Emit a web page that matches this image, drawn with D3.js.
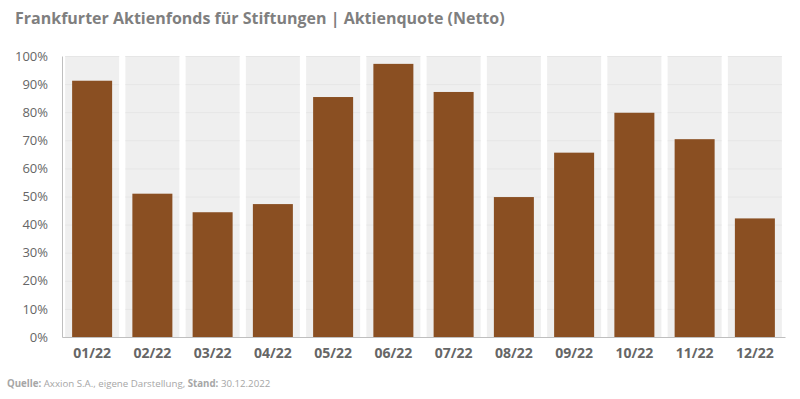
<!DOCTYPE html>
<html>
<head>
<meta charset="utf-8">
<script src="https://cdnjs.cloudflare.com/ajax/libs/d3/7.8.5/d3.min.js"></script>
<style>
  body { margin: 0; background: #fff; }
  svg { display: block; font-family: "Open Sans", sans-serif; }
</style>
</head>
<body>
<svg id="chart" width="800" height="399"></svg>
<script>
// data
var months = ['01/22', '02/22', '03/22', '04/22', '05/22', '06/22',
              '07/22', '08/22', '09/22', '10/22', '11/22', '12/22'];
var quote = [91.2, 51.0, 44.4, 47.3, 85.4, 97.2, 87.2, 49.8, 65.6, 79.8, 70.4, 42.2];
var yTicks = [0, 10, 20, 30, 40, 50, 60, 70, 80, 90, 100];

var svg = d3.select('#chart');
var plotLeft = 62, plotRight = 785, plotTop = 56, plotBottom = 337;
var colW = 54, barW = 40;

var x = d3.scaleBand().domain(months).range([plotLeft, plotRight]);
var y = d3.scaleLinear().domain([0, 100]).range([plotBottom, plotTop]);
function mid(d) { return x(d) + x.bandwidth() / 2; }

// title
svg.append('text')
    .attr('x', 15).attr('y', 24)
    .attr('font-size', 16).attr('font-weight', 'bold')
    .attr('fill', '#7f7f7f')
    .text('Frankfurter Aktienfonds für Stiftungen | Aktienquote (Netto)');

// grey column behind each month, with its own faint gridlines
var cols = svg.append('g').selectAll('g')
    .data(months).enter().append('g');
cols.append('rect')
    .attr('x', function(d) { return mid(d) - colW / 2; })
    .attr('y', plotTop)
    .attr('width', colW)
    .attr('height', plotBottom - plotTop)
    .attr('fill', '#efefef');
cols.selectAll('line')
    .data(function(d) { return yTicks.slice(1).map(function(t) { return [d, t]; }); })
    .enter().append('line')
    .attr('x1', function(p) { return mid(p[0]) - colW / 2; })
    .attr('x2', function(p) { return mid(p[0]) + colW / 2; })
    .attr('y1', function(p) { return y(p[1]) + 0.5; })
    .attr('y2', function(p) { return y(p[1]) + 0.5; })
    .attr('stroke', '#e6e6e6').attr('stroke-width', 1);

// bars
svg.append('g').selectAll('rect')
    .data(quote).enter().append('rect')
    .attr('x', function(d, i) { return mid(months[i]) - barW / 2; })
    .attr('y', function(d) { return y(d); })
    .attr('width', barW)
    .attr('height', function(d) { return plotBottom - y(d); })
    .attr('fill', '#8a4f22');

// y axis
var yAxis = svg.append('g')
    .attr('transform', 'translate(' + plotLeft + ',0)')
    .call(d3.axisLeft(y).tickValues(yTicks).tickSize(0).tickPadding(14)
        .tickFormat(function(d) { return d + '%'; }));
yAxis.select('.domain').attr('stroke', '#bfbfbf');
yAxis.selectAll('text')
    .attr('font-family', '"Open Sans", sans-serif')
    .attr('font-size', 13).attr('fill', '#666');

// x axis
var xAxis = svg.append('g')
    .attr('transform', 'translate(0,' + plotBottom + ')')
    .call(d3.axisBottom(x).tickSize(0).tickPadding(11));
xAxis.select('.domain').attr('stroke', '#bfbfbf');
xAxis.selectAll('text')
    .attr('font-family', '"Open Sans", sans-serif')
    .attr('font-size', 14).attr('font-weight', 'bold').attr('fill', '#666');

// source line
var src = svg.append('text')
    .attr('x', 7).attr('y', 387)
    .attr('font-size', 9.7).attr('fill', '#a6a6a6');
src.append('tspan').attr('font-weight', 'bold').text('Quelle:');
src.append('tspan').text(' Axxion S.A., eigene Darstellung, ');
src.append('tspan').attr('font-weight', 'bold').text('Stand:');
src.append('tspan').text(' 30.12.2022');
</script>
</body>
</html>
